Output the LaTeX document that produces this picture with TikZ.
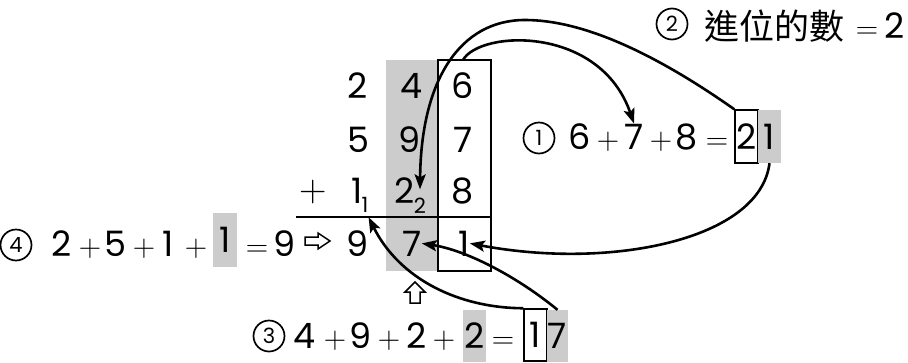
\documentclass[tikz,border=0pt]{standalone}
\usepackage{fontspec}
\setmainfont{Poppins}
\newfontfamily\cjk{Noto Sans CJK TC}
\newfontfamily\opfont{Latin Modern Roman}
\usetikzlibrary{arrows.meta}
\definecolor{lightgr}{RGB}{204,204,204}
\begin{document}
\begin{tikzpicture}[x=1pt,y=-1pt,
  dig/.style={inner sep=0pt, anchor=base, font=\fontsize{35}{40}\selectfont},
  op/.style={inner sep=0pt, anchor=base, font=\opfont\fontsize{31}{36}\selectfont},
  subd/.style={inner sep=0pt, anchor=base, font=\fontsize{21}{24}\selectfont},
  shd/.style={fill=lightgr, inner sep=0pt, font=\fontsize{35}{40}\selectfont},
  bxd/.style={draw, line width=1.5pt, inner sep=0pt, font=\fontsize{35}{40}\selectfont},
  circ/.style={circle, draw, line width=1.7pt, minimum size=31pt, inner sep=0pt, font=\fontsize{21}{22}\selectfont},
  arr/.style={line width=2.6pt, -{Stealth[length=15pt,width=11pt,inset=3pt]}},
  gridl/.style={line width=1.6pt},
  hol/.style={line width=1.5pt, line join=miter}
]
\useasboundingbox (0,0) rectangle (908,362);

% grid background and lines
\fill[lightgr] (386,60) rectangle (438,271);
\draw[gridl] (438,60) rectangle (491,271);
\draw[gridl] (296,217) -- (491,217);

% grid digits
\node[dig] (a1) at (358,98) {2};
\node[dig] (a2) at (412,98) {4};
\node[dig] (a3) at (463,98) {6};
\node[dig] (b1n) at (358,152) {5};
\node[dig] (b2n) at (410,152) {9};
\node[dig] (b3n) at (463,152) {7};
\node[op, font=\opfont\fontsize{38}{40}\selectfont] (plus) at (313,201) {+};
\node[dig] (c1) at (357,203) {1};
\node[subd] (sub1) at (365,212) {1};
\node[dig] (c2) at (405,203) {2};
\node[subd] (sub2) at (420,213) {2};
\node[dig] (c3) at (463,203) {8};
\node[dig] (r9) at (358,256) {9};
\node[dig] (r7) at (412,256) {7};
\node[dig] (r1) at (464,256) {1};

% equation 1
\node[circ] (k1) at (539,138) {1};
\node[dig] (e6) at (580,149) {6};
\node[op] (ep1) at (608,149) {+};
\node[dig] (e7) at (634,149) {7};
\node[op] (ep2) at (661,149) {+};
\node[dig] (e8) at (687,149) {8};
\node[op] (eeq) at (717,149) {=};
\node[bxd, minimum width=23pt, minimum height=53pt] (b21) at (746.5,136.5) {2};
\node[shd, minimum width=23pt, minimum height=53pt] (g21) at (769.5,136.5) {1};

% equation 2
\node[circ] (k2) at (672,24) {2};
\node[inner sep=0pt, font=\cjk\fontsize{35}{40}\selectfont] (cjk) at (774,26) {進位的數};
\node[op] (feq) at (867,38) {=};
\node[dig] (f2) at (895,38) {2};

% equation 4
\node[circ] (k4) at (16,245) {4};
\node[dig] (h2) at (62,256) {2};
\node[op] (hp1) at (90,256) {+};
\node[dig] (h5) at (115,256) {5};
\node[op] (hp2) at (144,256) {+};
\node[dig] (h1) at (168,256) {1};
\node[op] (hp3) at (196,256) {+};
\node[shd, minimum width=24pt, minimum height=54pt] (g4) at (225,240) {1};
\node[op] (heq) at (257,256) {=};
\node[dig] (h9) at (285,256) {9};
\draw[hol] (305,237) -- (318,237) -- (318,233) -- (330,241) -- (318,249) -- (318,245) -- (305,245) -- cycle;

% equation 3
\node[circ] (k3) at (269,336) {3};
\node[dig] (j4) at (305,348) {4};
\node[op] (jp1) at (335,348) {+};
\node[dig] (j9) at (361,348) {9};
\node[op] (jp2) at (389,348) {+};
\node[dig] (j2) at (417,348) {2};
\node[op] (jp3) at (444,348) {+};
\node[shd, minimum width=23pt, minimum height=52pt] (g2) at (474.5,336) {2};
\node[op] (jeq) at (503,348) {=};
\node[bxd, minimum width=23pt, minimum height=52pt] (b1) at (535.5,335) {1};
\node[shd, minimum width=21pt, minimum height=52pt] (g7) at (557.5,336) {7};
\draw[hol] (410,303) -- (410,292) -- (405,292) -- (415,282) -- (425,292) -- (420,292) -- (420,303) -- cycle;

% arrows
\coordinate (coltop) at (463,60);
\coordinate (peakB) at (525,20);
\draw[arr] (coltop) .. controls (480,30) and (600,25) .. (e7.north);
\draw[arr] (b21.north west) .. controls (650,50) and (580,20) .. (peakB) .. controls (460,20) and (421,80) .. ([yshift=8pt]sub2.north);
\draw[arr] (g21.south) .. controls (760,240) and (610,270) .. (r1.east);
\draw[arr] (g7.north) .. controls (515,275) and (465,250) .. (r7.east);
\draw[arr] (b1.north west) .. controls (460,308) and (400,280) .. ([yshift=-5pt]sub1.south east);
\end{tikzpicture}
\end{document}
